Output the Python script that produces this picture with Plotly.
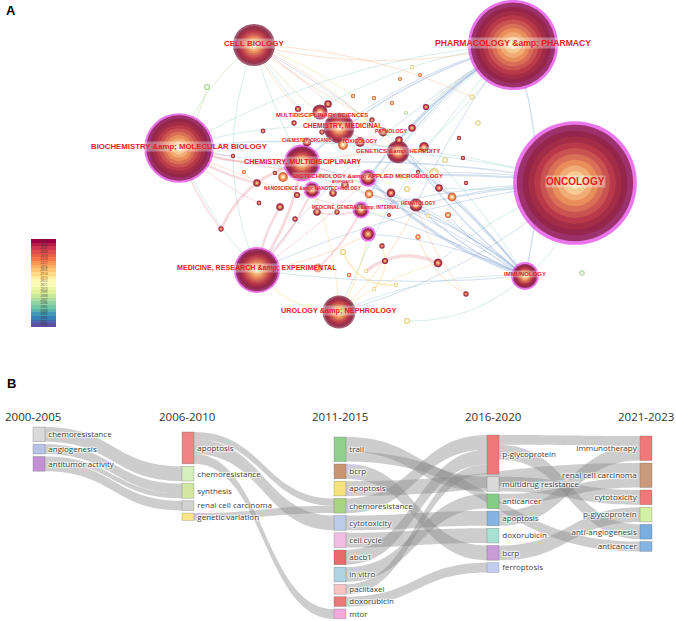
import numpy as np
import plotly.graph_objects as go
import plotly.colors as pc

W, H = 676, 621
A_BOTTOM = 370   # panel A uses the top 370 px

# ---------------- panel A: co-occurrence network of subject categories ----------------
cat_id = ["ONC", "PHA", "BIO", "MRE", "CEL", "CMU", "URO", "CME", "IMM", "GEN",
          "MSC", "BTE", "MGI", "NAN", "HEM", "PAT", "TOX", "COR", "BPH", "C19"]
cat_label = ["ONCOLOGY", "PHARMACOLOGY &amp; PHARMACY", "BIOCHEMISTRY &amp; MOLECULAR BIOLOGY",
             "MEDICINE, RESEARCH &amp; EXPERIMENTAL", "CELL BIOLOGY", "CHEMISTRY, MULTIDISCIPLINARY",
             "UROLOGY &amp; NEPHROLOGY", "CHEMISTRY, MEDICINAL", "IMMUNOLOGY", "GENETICS &amp; HEREDITY",
             "MULTIDISCIPLINARY SCIENCES", "BIOTECHNOLOGY &amp; APPLIED MICROBIOLOGY",
             "MEDICINE, GENERAL &amp; INTERNAL", "NANOSCIENCE &amp; NANOTECHNOLOGY", "HEMATOLOGY",
             "PATHOLOGY", "TOXICOLOGY", "CHEMISTRY, ORGANIC", "BIOPHYSICS", ""]
cat_x = [575, 513, 179, 257, 254, 302, 339, 339, 525, 398, 320, 368, 361, 312, 416, 383, 360, 307, 345, 368]
cat_y = [183, 45, 148, 270, 45, 163, 312, 128, 276, 152, 112, 178, 210, 190, 205, 132, 142, 142, 185, 234]
cat_freq = [790, 420, 250, 110, 92, 70, 56, 48, 40, 26, 12, 16, 15, 15, 9, 4, 5, 4, 3, 12]
cat_period = [0] * 20
cat_central = [1, 1, 1, 1, 0, 1, 0, 0, 1, 0, 0, 1, 1, 1, 0, 0, 0, 0, 0, 1]

# unlabelled categories (ids p01..p61)
small_x = [298, 328, 294, 263, 322, 343, 372, 412, 392, 374, 353, 412, 400, 420, 233, 244, 257, 283, 275, 297,
           280, 259, 333, 369, 391, 407, 337, 317, 426, 406, 399, 424, 445, 459, 463, 434, 418, 439, 452, 466,
           448, 428, 389, 418, 385, 396, 478, 472, 382, 466, 582, 407, 221, 295, 343, 438, 366, 349, 318, 374, 207]
small_y = [109, 104, 123, 131, 132, 145, 120, 128, 103, 98, 96, 67, 79, 75, 156, 172, 183, 177, 173, 195,
           207, 203, 193, 194, 193, 189, 212, 212, 107, 113, 140, 147, 160, 138, 158, 173, 172, 188, 197, 183,
           215, 216, 215, 237, 261, 285, 123, 97, 246, 294, 273, 321, 229, 219, 252, 263, 271, 275, 268, 289, 87]
small_freq = [2, 3, 1.5, 1.2, 1.5, 5, 1.5, 3, 1, 1, 1, 1, 0.8, 0.8, 1, 1, 3, 5, 1, 2,
              3, 1.2, 3, 4, 4, 2, 1.5, 3, 2, 0.8, 3, 5, 2, 1, 1, 5, 1, 3, 4, 1,
              2, 1, 0.8, 1.5, 2, 1, 1.5, 1.5, 1.5, 1.5, 1.5, 2, 1.5, 1.5, 2, 4, 1, 1, 4, 1, 2]
small_period = [0, 0, 0, 0, 0, 1, 0, 0, 1, 1, 1, 2, 1, 1, 0, 1, 0, 1, 0, 0,
                0, 0, 0, 1, 0, 2, 0, 0, 0, 3, 0, 0, 2, 0, 0, 2, 0, 0, 1, 0,
                1, 2, 0, 1, 0, 2, 2, 2, 0, 0, 3, 2, 0, 0, 2, 0, 2, 1, 1, 2, 3]

edges = [
    ("PHA", "CMU", 0.12, "blue", 1.6), ("PHA", "CME", 0.10, "blue", 1.0), ("PHA", "BIO", 0.12, "teal", 1.0),
    ("PHA", "IMM", -0.15, "blue", 1.4), ("PHA", "GEN", 0.08, "teal", 1.0), ("PHA", "BTE", 0.10, "blue", 2.2),
    ("PHA", "MGI", 0.14, "blue", 1.2), ("PHA", "CEL", -0.12, "orange", 1.0), ("PHA", "MRE", 0.10, "blue", 1.0),
    ("PHA", "URO", 0.10, "teal", 1.0), ("PHA", "HEM", 0.06, "blue", 1.0),
    ("PHA", "p02", 0.10, "teal", 1.0), ("PHA", "p08", 0.08, "blue", 1.0), ("PHA", "p29", 0.06, "green", 1.0),
    ("PHA", "p31", 0.10, "blue", 1.0), ("PHA", "p32", -0.06, "teal", 1.0),
    ("ONC", "CMU", 0.06, "blue", 1.4), ("ONC", "BIO", 0.10, "teal", 1.0), ("ONC", "BTE", 0.05, "blue", 2.0),
    ("ONC", "HEM", 0.04, "blue", 1.2), ("ONC", "IMM", -0.25, "teal", 1.0), ("ONC", "MRE", 0.08, "blue", 1.0),
    ("ONC", "GEN", 0.05, "teal", 1.0), ("ONC", "URO", -0.12, "blue", 1.0), ("ONC", "MGI", 0.06, "blue", 1.0),
    ("ONC", "p36", 0.05, "blue", 1.0), ("ONC", "p38", -0.05, "teal", 1.0), ("ONC", "p39", 0.05, "blue", 1.0),
    ("ONC", "p56", 0.10, "teal", 1.0),
    ("IMM", "CMU", 0.10, "blue", 1.5), ("IMM", "BIO", 0.12, "blue", 1.0), ("IMM", "CEL", 0.10, "blue", 1.0),
    ("IMM", "GEN", 0.06, "blue", 2.5), ("IMM", "BTE", -0.12, "blue", 3.0), ("IMM", "MGI", 0.05, "blue", 1.0),
    ("IMM", "MRE", -0.06, "blue", 1.0), ("IMM", "URO", 0.12, "teal", 1.0), ("IMM", "C19", 0.10, "blue", 1.0),
    ("IMM", "HEM", -0.10, "blue", 1.5), ("IMM", "p25", 0.08, "blue", 1.0), ("IMM", "p31", -0.08, "blue", 1.5),
    ("IMM", "p32", 0.06, "teal", 1.0), ("IMM", "p24", 0.10, "blue", 1.0), ("IMM", "p41", -0.10, "blue", 1.0),
    ("CEL", "CMU", 0.06, "teal", 1.0), ("CEL", "CME", 0.08, "green", 1.0), ("CEL", "GEN", -0.10, "orange", 1.0),
    ("CEL", "BIO", 0.15, "green", 1.0), ("CEL", "BTE", 0.08, "teal", 1.0), ("CEL", "MRE", 0.20, "teal", 1.0),
    ("CEL", "p48", -0.10, "orange", 1.0), ("CEL", "p01", 0.08, "orange", 1.0), ("CEL", "p02", -0.06, "pink", 1.0),
    ("CEL", "p07", 0.05, "orange", 1.0), ("CEL", "p11", -0.08, "yellow", 1.0),
    ("BIO", "CMU", 0.10, "pink", 2.0), ("BIO", "CME", -0.10, "teal", 1.0), ("BIO", "GEN", -0.08, "blue", 1.0),
    ("BIO", "MRE", 0.10, "teal", 1.0), ("BIO", "BTE", 0.05, "pink", 1.5), ("BIO", "MGI", 0.06, "orange", 1.0),
    ("BIO", "p61", 0.10, "green", 1.0), ("BIO", "p17", 0.10, "pink", 2.5), ("BIO", "p15", 0.05, "pink", 1.0),
    ("BIO", "p22", 0.08, "pink", 1.0), ("BIO", "p53", 0.10, "pink", 1.5),
    ("MRE", "CMU", 0.12, "pink", 3.0), ("MRE", "NAN", 0.10, "pink", 2.0), ("MRE", "URO", 0.25, "yellow", 1.2),
    ("MRE", "C19", 0.10, "orange", 1.0), ("MRE", "BTE", 0.05, "pink", 1.0), ("MRE", "p21", -0.10, "pink", 2.5),
    ("URO", "C19", 0.10, "yellow", 1.5), ("URO", "CMU", 0.10, "yellow", 1.0), ("URO", "HEM", 0.10, "orange", 1.0),
    ("URO", "p56", -0.10, "yellow", 1.0),
    ("p53", "CMU", -0.25, "pink", 3.0), ("p57", "p56", -0.30, "pink", 3.5), ("CMU", "GEN", -0.05, "orange", 1.0),
    ("CMU", "HEM", 0.10, "pink", 1.0), ("CME", "GEN", 0.05, "pink", 1.5), ("NAN", "CMU", 0.10, "pink", 2.0),
    ("p18", "CMU", 0.10, "pink", 2.0), ("p55", "p46", 0.35, "yellow", 2.0), ("p60", "p49", 0.30, "yellow", 1.5),
    ("p59", "MGI", 0.10, "pink", 2.0), ("p28", "MGI", 0.15, "pink", 2.0), ("p44", "p50", 0.20, "orange", 1.0),
    ("HEM", "p50", 0.10, "orange", 1.0), ("p52", "IMM", 0.20, "teal", 1.0),
]

years = list(range(2000, 2024))

# ---------------- panel B: keyword evolution ----------------
periods = ["2000-2005", "2006-2010", "2011-2015", "2016-2020", "2021-2023"]
kw_label = ["chemoresistance", "angiogenesis", "antitumor activity",
            "apoptosis", "chemoresistance", "synthesis", "renal cell carcinoma", "genetic variation",
            "trail", "bcrp", "apoptosis", "chemoresistance", "cytotoxicity", "cell cycle", "abcb1",
            "in vitro", "paclitaxel", "doxorubicin", "mtor",
            "p-glycoprotein", "multidrug resistance", "anticancer", "apoptosis", "doxorubicin", "bcrp", "ferroptosis",
            "immunotherapy", "renal cell carcinoma", "cytotoxicity", "p-glycoprotein", "anti-angiogenesis", "anticancer"]
kw_period = [0] * 3 + [1] * 5 + [2] * 11 + [3] * 7 + [4] * 6
kw_color = ["#d9d9d9", "#b7c4e8", "#c38fd6",
            "#f08383", "#d6efbc", "#d2e8a0", "#d2d2d2", "#fbe58a",
            "#8fd08f", "#c99472", "#f6e27a", "#a9d482", "#bccbea", "#f1bde3", "#e86a6a",
            "#aed3e3", "#f9c4c4", "#e97a7a", "#f3a8de",
            "#f07878", "#d9d9d9", "#86cc86", "#86b4e2", "#a8e2d2", "#c69bd6", "#c4ccf0",
            "#f07878", "#c99a7c", "#f07878", "#d4f0a4", "#78aee0", "#86b4e2"]
link_src = [0, 1, 2, 2, 3, 3, 3, 7,
            8, 8, 9, 10, 11, 12, 13, 14, 15, 16, 17,
            19, 19, 20, 21, 22, 24]
link_dst = [4, 5, 5, 6, 12, 11, 18, 11,
            20, 31, 24, 27, 19, 22, 23, 19, 21, 19, 25,
            26, 30, 28, 27, 26, 29]
link_val = [3, 2, 1, 2, 3, 1.5, 2, 1.5,
            3, 2, 3, 3, 3, 3, 3, 3, 3, 2, 2,
            2, 3, 3, 2, 3, 3]

# ============================================================================
fig = go.Figure()

ya_dom = [1 - A_BOTTOM / H, 1]
tints = {"blue": "rgba(120,158,205,0.33)", "teal": "rgba(115,195,190,0.30)",
         "green": "rgba(160,205,130,0.35)", "yellow": "rgba(240,218,125,0.40)",
         "orange": "rgba(245,172,115,0.35)", "pink": "rgba(228,135,148,0.30)"}

all_id = cat_id + ["p%02d" % (i + 1) for i in range(len(small_x))]
all_x = np.array(cat_x + small_x, float)
all_y = np.array(cat_y + small_y, float)
all_f = np.array(cat_freq + small_freq, float)
all_p = cat_period + small_period
all_c = cat_central + [0] * len(small_x)
pos = {k: (all_x[i], all_y[i]) for i, k in enumerate(all_id)}
rad = 2.2 * np.sqrt(all_f)


def curve(a, b, bend, n=30):
    (x0, y0), (x1, y1) = pos[a], pos[b]
    dx, dy = x1 - x0, y1 - y0
    cx, cy = (x0 + x1) / 2 - bend * dy, (y0 + y1) / 2 + bend * dx
    t = np.linspace(0, 1, n)
    xs = (1 - t) ** 2 * x0 + 2 * (1 - t) * t * cx + t ** 2 * x1
    ys = (1 - t) ** 2 * y0 + 2 * (1 - t) * t * cy + t ** 2 * y1
    return list(xs) + [None], list(ys) + [None]


groups = {}
for a, b, bend, tint, w in edges:
    xs, ys = curve(a, b, bend)
    g = groups.setdefault((tint, w), ([], []))
    g[0].extend(xs)
    g[1].extend(ys)
for (tint, w), (xs, ys) in sorted(groups.items(), key=lambda kv: kv[0][1]):
    fig.add_trace(go.Scatter(x=xs, y=ys, mode="lines", line=dict(color=tints[tint], width=w),
                             hoverinfo="skip", showlegend=False))

# purple rings = high betweenness centrality
cen = [i for i in range(len(all_id)) if all_c[i]]
ring_w = np.maximum(1.8, 0.06 * rad)
fig.add_trace(go.Scatter(x=all_x[cen], y=all_y[cen], mode="markers", hoverinfo="skip", showlegend=False,
                         marker=dict(size=2 * rad[cen], color="#e23be3", line=dict(width=0))))

# tree rings
anchors = [["#7a1436", "#c23e4c", "#ef9b5e", "#fff3c2"],
           ["#c84a30", "#f08c4c", "#fcdca0", "#fffbe8"],
           ["#dcc266", "#f3e8b0", "#fffdf0", "#ffffff"],
           ["#98c388", "#d3eabf", "#f6fbef", "#ffffff"]]
levels = 10
palettes = [pc.sample_colorscale(pc.make_colorscale(a), list(np.linspace(0, 1, levels))) for a in anchors]
r_in = rad - np.where(np.array(all_c) == 1, ring_w, 0)
for k in range(levels):
    frac = 1 - k / levels
    fig.add_trace(go.Scatter(x=all_x, y=all_y, mode="markers", hoverinfo="skip", showlegend=False,
                             marker=dict(size=2 * r_in * frac, color=[palettes[p][k] for p in all_p],
                                         line=dict(width=0))))

label_size = {"ONC": 10, "PHA": 8.6, "BIO": 7.8, "MRE": 7.1, "CEL": 8, "CMU": 7.2, "URO": 7.3, "CME": 6.7,
              "IMM": 6, "GEN": 6.1, "MSC": 6, "BTE": 6, "MGI": 4.6, "NAN": 4.6, "HEM": 4.9, "PAT": 5.2,
              "TOX": 5.3, "COR": 4.5, "BPH": 3.5}
label_shift = {"PAT": (8, -1), "TOX": (0, -1), "CME": (3, -2), "MSC": (2, 3), "MGI": (-5, -3),
               "HEM": (2, -2), "BPH": (-2, -3)}
for i, k in enumerate(cat_id):
    if not cat_label[i]:
        continue
    dx, dy = label_shift.get(k, (0, -2))
    fig.add_annotation(x=cat_x[i] + dx, y=cat_y[i] + dy, xref="x", yref="y", showarrow=False,
                       text="<b>%s</b>" % cat_label[i].replace("&", "&amp;"),
                       font=dict(family="Liberation Sans, Arial", size=label_size[k], color="#e31e24"),
                       bgcolor="rgba(255,255,255,0.35)", borderpad=0)

# year legend
fig.add_trace(go.Heatmap(z=[[y] for y in years], x=[0], y=years, xaxis="x2", yaxis="y2",
                         colorscale=[[i / 10, c] for i, c in enumerate(pc.diverging.Spectral[::-1])],
                         showscale=False, hoverinfo="skip", texttemplate="%{z}",
                         textfont=dict(size=3, color="#333")))

# ---------------- sankey ----------------
B_TOP = 425
B_H = H - B_TOP
unit = 4.9
col_px = [39, 188, 340, 493, 646]
head_px = [33, 187, 340, 493, 646]
col_top = [427, 432, 437, 435, 436]
gap = 2.5
inflow = np.zeros(len(kw_label))
outflow = np.zeros(len(kw_label))
for s, t, v in zip(link_src, link_dst, link_val):
    outflow[s] += v
    inflow[t] += v
node_h = np.maximum(inflow, outflow) * unit
cursor = list(col_top)
kx, ky = [], []
for i, p in enumerate(kw_period):
    kx.append(col_px[p] / W)
    ky.append((cursor[p] + node_h[i] / 2 - B_TOP) / B_H)
    cursor[p] += node_h[i] + gap

fig.add_trace(go.Sankey(
    arrangement="fixed",
    domain=dict(x=[0, 1], y=[0, B_H / H]),
    node=dict(label=kw_label, color=kw_color, x=kx, y=ky, pad=0, thickness=12,
              line=dict(color="rgba(90,90,90,0.45)", width=0.6), hoverinfo="none"),
    link=dict(source=link_src, target=link_dst, value=link_val,
              color="rgba(135,135,135,0.42)", hoverinfo="none"),
    textfont=dict(family="Open Sans", size=8, color="#444"),
))

for p, name in enumerate(periods):
    fig.add_annotation(x=head_px[p] / W, y=1 - 416 / H, xref="paper", yref="paper", showarrow=False,
                       text=name, font=dict(family="Open Sans", size=11.5, color="#333"),
                       xanchor="center", yanchor="middle")

for txt, yy in [("A", 11), ("B", 383)]:
    fig.add_annotation(x=11 / W, y=1 - yy / H, xref="paper", yref="paper", showarrow=False,
                       text="<b>%s</b>" % txt, xanchor="center", yanchor="middle",
                       font=dict(family="Liberation Sans, Arial", size=13, color="#000"))

hidden = dict(visible=False, showgrid=False, zeroline=False)
fig.update_layout(
    width=W, height=H, margin=dict(l=0, r=0, t=0, b=0),
    paper_bgcolor="white", plot_bgcolor="rgba(0,0,0,0)",
    xaxis=dict(range=[0, W], domain=[0, 1], **hidden),
    yaxis=dict(range=[A_BOTTOM, 0], domain=ya_dom, **hidden),
    xaxis2=dict(domain=[31 / W, 56 / W], anchor="y2", **hidden),
    yaxis2=dict(domain=[1 - 327 / H, 1 - 239 / H], anchor="x2", **hidden),
    showlegend=False,
)

# the page body has a default 8px margin; drop it so the figure fills the window
fig.write_html("out.html", config={"displayModeBar": False},
               post_script="document.body.style.margin='0px';")
